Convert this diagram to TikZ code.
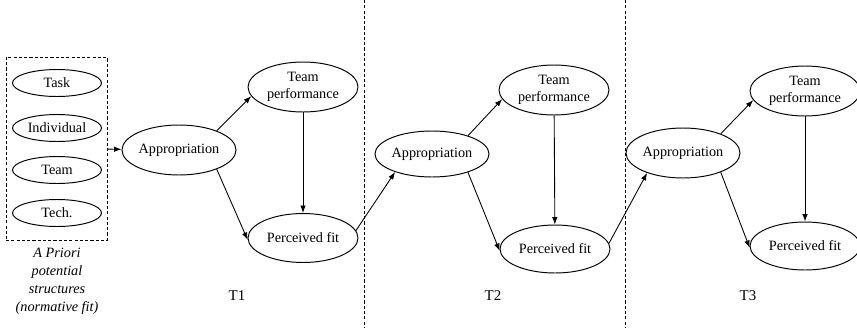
\documentclass[tikz,border=0pt]{standalone}
\usepackage{fontspec}
\setmainfont{Liberation Serif}
\usepackage{tikz}
\usetikzlibrary{arrows.meta,shapes.geometric}

\begin{document}
\begin{tikzpicture}[
    x=0.02cm, y=-0.02cm,
    oval/.style={ellipse, draw, line width=0.55pt, inner sep=0pt, align=center,
                 font=\fontsize{8.1}{9.5}\selectfont,
                 minimum width=2.2cm, minimum height=1.0cm},
    smalloval/.style={oval, minimum width=1.78cm, minimum height=0.54cm},
    flow/.style={-{Latex[length=1.5mm,width=1.1mm]}, line width=0.5pt},
    divider/.style={line width=0.5pt, dash pattern=on 1.8pt off 1.2pt},
    timelabel/.style={font=\fontsize{8.5}{10}\selectfont}
]
\useasboundingbox (0,0) rectangle (857,328);

% a priori structures
\node[draw, divider, minimum width=2.02cm, minimum height=3.66cm] (box) at (56.5,148.5) {};
\node[smalloval] (task)  at (57,83)  {Task};
\node[smalloval] (indiv) at (57,128) {Individual};
\node[smalloval] (team)  at (57,170) {Team};
\node[smalloval] (tech)  at (57,213) {Tech.};
\node[align=center, font=\fontsize{8.1}{10.2}\selectfont\itshape] (apriori) at (57,281)
    {A Priori\\potential\\structures\\(normative fit)};

% time dividers
\draw[divider] (364,0) -- (364,328);
\draw[divider] (625,0) -- (625,328);

% T1
\node[oval, minimum width=2.16cm] (app1) at (179,150) {Appropriation};
\node[oval] (perf1) at (303,87)  {Team\\performance};
\node[oval, minimum height=0.98cm] (fit1) at (303,238) {Perceived fit};
\node[timelabel] (t1) at (237,296) {T1};

% T2
\node[oval, minimum width=2.2cm, minimum height=0.92cm] (app2) at (432,154) {Appropriation};
\node[oval] (perf2) at (554,90)  {Team\\performance};
\node[oval, minimum height=0.96cm] (fit2) at (555,249) {Perceived fit};
\node[timelabel] (t2) at (493,296) {T2};

% T3
\node[oval, minimum width=2.14cm] (app3) at (683,153) {Appropriation};
\node[oval] (perf3) at (805,91)  {Team\\performance};
\node[oval, minimum height=0.96cm] (fit3) at (805,246) {Perceived fit};
\node[timelabel] (t3) at (748,296) {T3};

% connectors
\draw[flow] (box) -- (app1);
\draw[flow] (app1.27) -- (perf1.190);
\draw[flow] (app1.333) -- (fit1.182);
\draw[flow] (perf1) -- (fit1);
\draw[flow] (fit1.8) -- (app2.206);
\draw[flow] (app2.27) -- (perf2.190);
\draw[flow] (app2.333) -- (fit2.182);
\draw[flow] (perf2) -- (fit2);
\draw[flow] (fit2.6) -- (app3.209);
\draw[flow] (app3.27) -- (perf3.190);
\draw[flow] (app3.333) -- (fit3.182);
\draw[flow] (perf3) -- (fit3);
\end{tikzpicture}
\end{document}
